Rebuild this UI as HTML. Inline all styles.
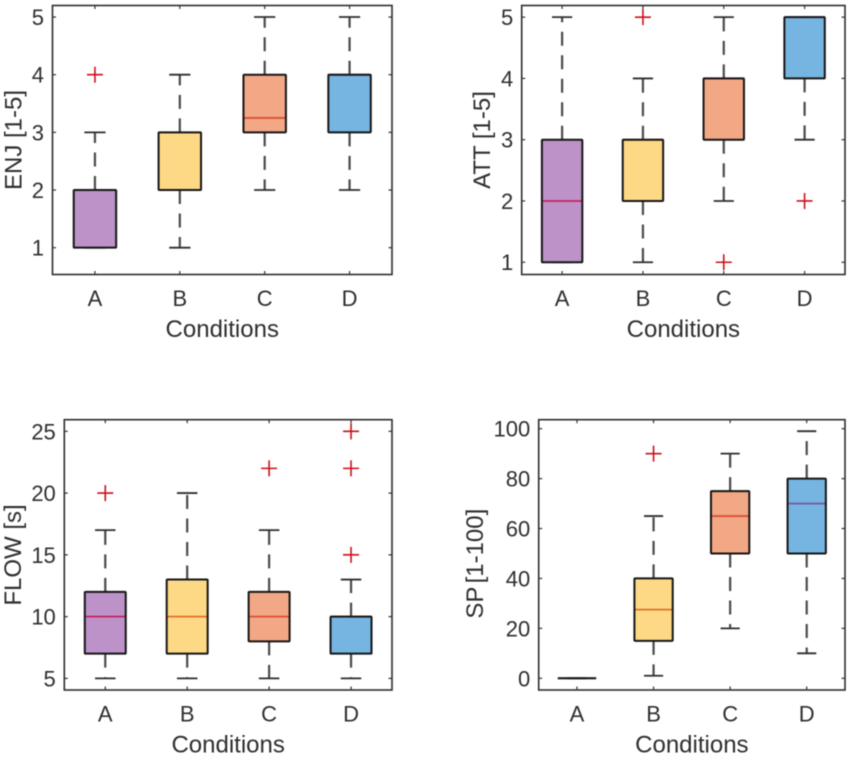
<!DOCTYPE html>
<html>
<head>
<meta charset="utf-8">
<title>Box plots by condition</title>
<style>
html,body{margin:0;padding:0;background:#fff;width:851px;height:759px;overflow:hidden}
svg{display:block;filter:blur(0.4px)}
text{font-family:"Liberation Sans",Arial,sans-serif;fill:#2e2e2e}
</style>
</head>
<body>
<svg id="chart" width="851" height="759" viewBox="0 0 851 759" xmlns="http://www.w3.org/2000/svg"></svg>
<script>
const categories = ['A', 'B', 'C', 'D'];

const enjQ1 = [1, 2, 3, 3];
const enjMedian = [2, 3, 3.25, 4];
const enjQ3 = [2, 3, 4, 4];
const enjLow = [1, 1, 2, 2];
const enjHigh = [3, 4, 5, 5];
const enjOutliers = [[4], [], [], []];
const enjTicks = [1, 2, 3, 4, 5];

const attQ1 = [1, 2, 3, 4];
const attMedian = [2, 3, 4, 5];
const attQ3 = [3, 3, 4, 5];
const attLow = [1, 1, 2, 3];
const attHigh = [5, 4, 5, 5];
const attOutliers = [[], [5], [1], [2]];
const attTicks = [1, 2, 3, 4, 5];

const flowQ1 = [7, 7, 8, 7];
const flowMedian = [10, 10, 10, 10];
const flowQ3 = [12, 13, 12, 10];
const flowLow = [5, 5, 5, 5];
const flowHigh = [17, 20, 17, 13];
const flowOutliers = [[20], [], [22], [15, 22, 25]];
const flowTicks = [5, 10, 15, 20, 25];

const spQ1 = [0, 15, 50, 50];
const spMedian = [0, 27.5, 65, 70];
const spQ3 = [0, 40, 75, 80];
const spLow = [0, 1, 20, 10];
const spHigh = [0, 65, 90, 99];
const spOutliers = [[], [90], [], []];
const spTicks = [0, 20, 40, 60, 80, 100];

const fills = ['#bd92c9', '#fdd985', '#f3a885', '#76b5e2'];
const medianColors = ['#c4245e', '#e2702c', '#dd4f36', '#7a5aa0'];

const panels = [
  {id: 'enj', title: 'ENJ [1-5]', q1: enjQ1, med: enjMedian, q3: enjQ3, lo: enjLow, hi: enjHigh, out: enjOutliers, ticks: enjTicks,
   left: 52.5, right: 392, top: 5.5, bottom: 274.5, yMin: 0.535, yMax: 5.2, labelX: 21.5, labelY: 140, spacing: 0},
  {id: 'att', title: 'ATT [1-5]', q1: attQ1, med: attMedian, q3: attQ3, lo: attLow, hi: attHigh, out: attOutliers, ticks: attTicks,
   left: 521.7, right: 845, top: 5.5, bottom: 274.5, yMin: 0.8, yMax: 5.19, labelX: 490, labelY: 140, spacing: 0},
  {id: 'flow', title: 'FLOW [s]', q1: flowQ1, med: flowMedian, q3: flowQ3, lo: flowLow, hi: flowHigh, out: flowOutliers, ticks: flowTicks,
   left: 64.3, right: 392, top: 419.7, bottom: 690, yMin: 4.06, yMax: 25.94, labelX: 21, labelY: 555, spacing: 0},
  {id: 'sp', title: 'SP [1-100]', q1: spQ1, med: spMedian, q3: spQ3, lo: spLow, hi: spHigh, out: spOutliers, ticks: spTicks,
   left: 538.7, right: 845, top: 419.7, bottom: 690, yMin: -4.7, yMax: 103.6, labelX: 483, labelY: 563.7, spacing: -3}
];

const NS = 'http://www.w3.org/2000/svg';
const root = document.getElementById('chart');

function make(parent, tag, attrs) {
  const el = document.createElementNS(NS, tag);
  for (const k in attrs) el.setAttribute(k, attrs[k]);
  parent.appendChild(el);
  return el;
}

panels.forEach(function (p) {
  const xScale = function (i) { return p.left + (i + 0.5) / categories.length * (p.right - p.left); };
  const yScale = function (v) { return p.bottom - (v - p.yMin) / (p.yMax - p.yMin) * (p.bottom - p.top); };
  const unit = (p.right - p.left) / categories.length;

  const g = make(root, 'g', {});
  
  

  categories.forEach(function (cat, i) {
    const cx = xScale(i);
    const boxW = unit * 0.5;
    const capW = unit * 0.25;
    const group = make(g, 'g', {});
    
    

    make(group, 'line', {x1: cx, x2: cx, y1: yScale(p.q3[i]), y2: yScale(p.hi[i]), stroke: '#4a4a4a', 'stroke-width': 2.2, 'stroke-dasharray': '14 9.5'});
    make(group, 'line', {x1: cx, x2: cx, y1: yScale(p.q1[i]), y2: yScale(p.lo[i]), stroke: '#4a4a4a', 'stroke-width': 2.2, 'stroke-dasharray': '14 9.5'});
    make(group, 'line', {x1: cx - capW / 2, x2: cx + capW / 2, y1: yScale(p.hi[i]), y2: yScale(p.hi[i]), stroke: '#2e2e2e', 'stroke-width': 1.8});
    make(group, 'line', {x1: cx - capW / 2, x2: cx + capW / 2, y1: yScale(p.lo[i]), y2: yScale(p.lo[i]), stroke: '#2e2e2e', 'stroke-width': 1.8});

    const top = yScale(p.q3[i]);
    const h = yScale(p.q1[i]) - top;
    make(group, 'rect', {x: cx - boxW / 2, y: top, width: boxW, height: h, fill: fills[i], stroke: 'none'});
    make(group, 'line', {x1: cx - boxW / 2, x2: cx + boxW / 2, y1: yScale(p.med[i]), y2: yScale(p.med[i]), stroke: medianColors[i], 'stroke-width': 1.8});
    if (h > 0) {
      make(group, 'rect', {x: cx - boxW / 2, y: top, width: boxW, height: h, fill: 'none', stroke: '#161616', 'stroke-width': 2, rx: 0.8});
    } else {
      make(group, 'line', {x1: cx - boxW / 2, x2: cx + boxW / 2, y1: top, y2: top, stroke: '#161616', 'stroke-width': 2});
    }

    p.out[i].forEach(function (v) {
      const oy = yScale(v);
      const plus = make(group, 'path', {d: 'M' + (cx - 8) + ' ' + oy + 'H' + (cx + 8) + 'M' + cx + ' ' + (oy - 8) + 'V' + (oy + 8), stroke: '#cc101c', 'stroke-width': 1.6, fill: 'none'});
      
      
    });

    make(g, 'line', {x1: cx, x2: cx, y1: p.bottom, y2: p.bottom - 3.5, stroke: '#333', 'stroke-width': 1.2});
    make(g, 'line', {x1: cx, x2: cx, y1: p.top, y2: p.top + 3.5, stroke: '#333', 'stroke-width': 1.2});

    const xt = make(g, 'text', {x: cx, y: p.bottom + 31.5, 'font-size': 22, 'text-anchor': 'middle'});
    xt.textContent = cat;
    
    
  });

  p.ticks.forEach(function (v) {
    const y = yScale(v);
    make(g, 'line', {x1: p.left, x2: p.left + 3.5, y1: y, y2: y, stroke: '#333', 'stroke-width': 1.2});
    make(g, 'line', {x1: p.right, x2: p.right - 3.5, y1: y, y2: y, stroke: '#333', 'stroke-width': 1.2});
    const yt = make(g, 'text', {x: p.left - 8.5, y: y + 8, 'font-size': 22, 'text-anchor': 'end'});
    yt.textContent = v;
    
    
  });

  const frame = make(g, 'rect', {x: p.left, y: p.top, width: p.right - p.left, height: p.bottom - p.top, fill: 'none', stroke: '#2e2e2e', 'stroke-width': 1.6});
  
  

  const xl = make(g, 'text', {x: (p.left + p.right) / 2, y: p.bottom + 62.5, 'font-size': 24, 'text-anchor': 'middle'});
  xl.textContent = 'Conditions';
  
  

  const yl = make(g, 'text', {x: p.labelX, y: p.labelY, 'font-size': 24, 'text-anchor': 'middle', 'word-spacing': p.spacing, transform: 'rotate(-90 ' + p.labelX + ' ' + p.labelY + ')'});
  yl.textContent = p.title;
  
  
});
</script>
</body>
</html>
